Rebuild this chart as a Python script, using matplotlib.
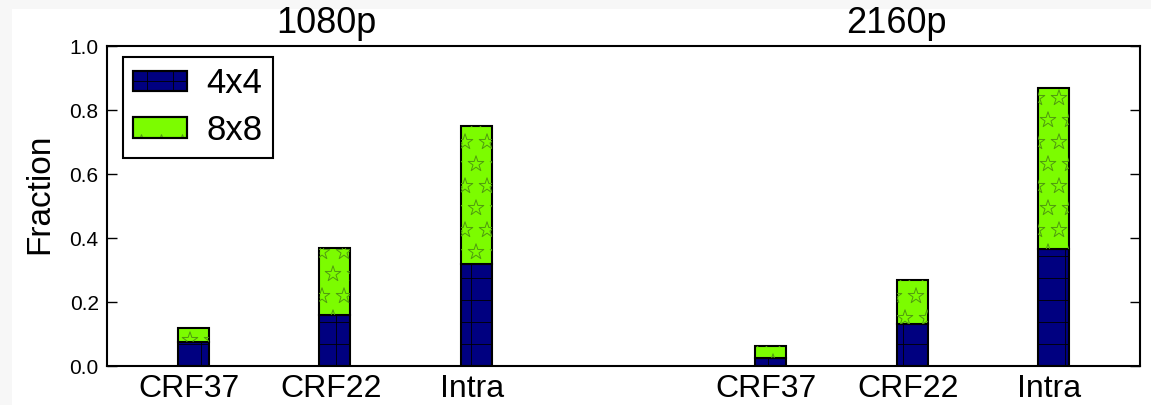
import matplotlib
matplotlib.use("Agg")
import numpy as np
import matplotlib.pyplot as plt
from matplotlib.patches import Rectangle
from matplotlib.lines import Line2D
from matplotlib.legend_handler import HandlerBase

plt.rcParams['font.family'] = ['Liberation Sans', 'DejaVu Sans']

# Data: fraction of blocks coded with 4x4 and 8x8 partitions
resolutions = ['1080p', '2160p']
categories = ['CRF37', 'CRF22', 'Intra', 'CRF37', 'CRF22', 'Intra']
frac_4x4 = [0.075, 0.16, 0.32, 0.025, 0.13, 0.365]
frac_8x8 = [0.045, 0.21, 0.43, 0.038, 0.14, 0.505]
positions = [0, 1, 2, 4.08, 5.08, 6.08]
y_ticks = [0.0, 0.2, 0.4, 0.6, 0.8, 1.0]

NAVY = '#000080'
GREEN = '#7cfc00'
STAR_EDGE = '#4f9a10'

W, H = 1151, 405
fig = plt.figure(figsize=(W / 100, H / 100), dpi=100, facecolor='#f7f7f7')
fig.patches.append(Rectangle((12 / W, 0), 1, 1 - 9 / H, transform=fig.transFigure,
                             facecolor='white', edgecolor='none', zorder=-10))

AX_W, AX_H = 1140 - 107, 320
ax = fig.add_axes([107 / W, (H - 366) / H, AX_W / W, AX_H / H])
ax.set_facecolor('white')

XLIM = (-0.611, 6.69)
ax.set_xlim(*XLIM)
ax.set_ylim(0, 1.0)
px_x = (XLIM[1] - XLIM[0]) / AX_W   # data units per pixel
px_y = 1.0 / AX_H

bw = 0.22
b1 = ax.bar(positions, frac_4x4, bw, color=NAVY, edgecolor='black', linewidth=1.5, zorder=2)
b2 = ax.bar(positions, frac_8x8, bw, bottom=frac_4x4, color=GREEN,
            edgecolor='black', linewidth=1.5, zorder=2)


def grid_hatch(patch, dx=27, dy=22):
    """Thin black grid clipped to a bar."""
    x0, y0 = patch.get_x(), patch.get_y()
    x1, y1 = x0 + patch.get_width(), y0 + patch.get_height()
    xs = XLIM[0] + np.arange(0, AX_W, dx) * px_x + 13 * px_x
    ys = np.arange(0, AX_H, dy) * px_y
    for x in xs[(xs > x0) & (xs < x1)]:
        ln, = ax.plot([x, x], [y0, y1], color='black', lw=0.6, zorder=2.5)
        ln.set_clip_path(patch)
    for y in ys[(ys > y0) & (ys < y1)]:
        ln, = ax.plot([x0, x1], [y, y], color='black', lw=0.6, zorder=2.5)
        ln.set_clip_path(patch)


def star_hatch(patch, dx=22, dy=22):
    """Hollow stars in staggered rows, clipped to a bar."""
    x0, y0 = patch.get_x(), patch.get_y()
    x1, y1 = x0 + patch.get_width(), y0 + patch.get_height()
    pts_x, pts_y = [], []
    for r, yp in enumerate(np.arange(0, AX_H + dy, dy)):
        y = yp * px_y + 4 * px_y
        off = 0 if r % 2 == 0 else dx / 2
        for xp in np.arange(off, AX_W + dx, dx):
            x = XLIM[0] + xp * px_x + 6 * px_x
            if x0 - 8 * px_x < x < x1 + 8 * px_x and y0 - 8 * px_y < y < y1 + 8 * px_y:
                pts_x.append(x)
                pts_y.append(y)
    sc = ax.scatter(pts_x, pts_y, s=140, marker='*', facecolors='none',
                    edgecolors=STAR_EDGE, linewidths=0.7, zorder=2.5)
    sc.set_clip_path(patch)


for p in b1:
    grid_hatch(p)
for p in b2:
    star_hatch(p)

ax.set_yticks(y_ticks)
ax.set_yticklabels([f'{v:.1f}' for v in y_ticks])
ax.set_xticks([p - 0.03 for p in positions])
ax.set_xticklabels(categories)

ax.tick_params(axis='y', direction='in', length=7, width=1, left=True, right=True,
               labelsize=15, pad=6)
ax.tick_params(axis='x', length=0, labelsize=23, pad=6)
for s in ax.spines.values():
    s.set_linewidth(1.5)
    s.set_zorder(5)

ylab = ax.set_ylabel('Fraction', fontsize=24)
ax.yaxis.set_label_coords((39.5 - 107) / AX_W, (366 - 193.5) / AX_H)
ylab.set_va('center')

# group titles
group_centers = [0.94, 4.97]
for xc, name in zip(group_centers, resolutions):
    ax.text(xc, 1.04, name, transform=ax.get_xaxis_transform(), ha='center',
            va='baseline', fontsize=26)


class HatchedHandle(HandlerBase):
    def __init__(self, kind):
        super().__init__()
        self.kind = kind

    def create_artists(self, legend, orig_handle, xdescent, ydescent, width, height,
                       fontsize, trans):
        x0, y0 = -xdescent, -ydescent
        face = NAVY if self.kind == 'grid' else GREEN
        rect = Rectangle((x0, y0), width, height, facecolor=face, edgecolor='black',
                         lw=1.5, transform=trans)
        arts = [rect]
        if self.kind == 'grid':
            for fx in (0.26, 0.74):
                arts.append(Line2D([x0 + fx * width] * 2, [y0, y0 + height],
                                   color='black', lw=0.6, transform=trans))
            arts.append(Line2D([x0, x0 + width], [y0 + height / 2] * 2,
                               color='black', lw=0.6, transform=trans))
        else:
            for fx in (0.14, 0.52, 0.9):
                arts.append(Line2D([x0 + fx * width], [y0 - 2.5], marker='*',
                                   markersize=11, markerfacecolor='none',
                                   markeredgecolor=STAR_EDGE, markeredgewidth=0.7,
                                   linestyle='none', transform=trans))
        for a in arts[1:]:
            a.set_clip_path(rect)
        # border drawn again above the markings
        arts.append(Rectangle((x0, y0), width, height, fill=False, edgecolor='black',
                              lw=1.5, transform=trans))
        return arts


leg = ax.legend([b1[0], b2[0]], ['4x4', '8x8'],
                handler_map={b1[0]: HatchedHandle('grid'), b2[0]: HatchedHandle('star')},
                loc='upper left', bbox_to_anchor=(0.0155, 0.966), borderaxespad=0,
                fontsize=25, handlelength=1.55, handleheight=0.55,
                handletextpad=0.55, labelspacing=0.4, borderpad=0.3,
                fancybox=False, edgecolor='black', framealpha=1)
leg.get_frame().set_linewidth(1.5)
leg.set_zorder(6)

fig.savefig('out.png', dpi=100, facecolor=fig.get_facecolor())
